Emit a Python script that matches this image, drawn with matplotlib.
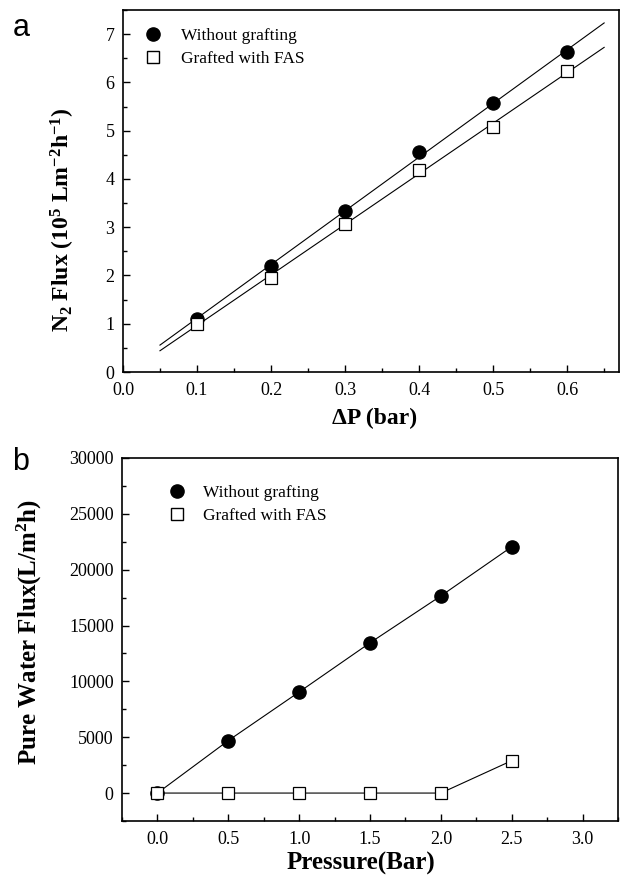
import numpy as np
import matplotlib
matplotlib.use("Agg")
import matplotlib.pyplot as plt
from matplotlib.lines import Line2D
from matplotlib.ticker import MultipleLocator, FormatStrFormatter

plt.rcParams['font.family'] = ['Liberation Serif', 'DejaVu Serif']
plt.rcParams['mathtext.default'] = 'regular'

# Panel a data
dp = [0.1, 0.2, 0.3, 0.4, 0.5, 0.6]
n2_without = [1.10, 2.20, 3.33, 4.55, 5.57, 6.62]
n2_fas = [1.00, 1.95, 3.06, 4.18, 5.08, 6.23]
fit_range = [0.05, 0.65]

# Panel b data
pressure = [0.0, 0.5, 1.0, 1.5, 2.0, 2.5]
water_without = [0, 4700, 9050, 13450, 17650, 22050]
water_fas = [0, 0, 0, 0, 0, 2900]

labels = ["Without grafting", "Grafted with FAS"]

fig = plt.figure(figsize=(6.21, 8.76), dpi=100)
axa = fig.add_axes([0.198, 0.5753, 0.7987, 0.4133])
axb = fig.add_axes([0.1965, 0.0628, 0.7987, 0.4144])

def style(ax):
    for s in ax.spines.values():
        s.set_linewidth(1.2)
    ax.tick_params(which='both', direction='in', labelsize=13, top=False, right=False)
    ax.tick_params(which='major', length=5, width=1)
    ax.tick_params(which='minor', length=3, width=1)
    ax.tick_params(axis='x', which='major', pad=7)
    ax.tick_params(axis='y', which='major', pad=6)

# Panel a
xf = np.array(fit_range)
for y, mk, mfc, ms in [(n2_without, 'o', 'black', 9.5), (n2_fas, 's', 'white', 8.5)]:
    p = np.polyfit(dp, y, 1)
    axa.plot(xf, np.polyval(p, xf), color='black', lw=0.8, zorder=2)
    axa.plot(dp, y, linestyle='none', marker=mk, mfc=mfc, mec='black', ms=ms, mew=0.9, zorder=3)
axa.set_xlim(0.0, 0.67)
axa.set_ylim(0, 7.5)
axa.xaxis.set_major_locator(MultipleLocator(0.1))
axa.xaxis.set_minor_locator(MultipleLocator(0.05))
axa.yaxis.set_major_locator(MultipleLocator(1))
axa.yaxis.set_minor_locator(MultipleLocator(0.5))
axa.xaxis.set_major_formatter(FormatStrFormatter('%.1f'))
style(axa)
axa.set_xlabel('ΔP (bar)', fontsize=17, fontweight='bold')
axa.xaxis.set_label_coords(0.508, -0.10)
axa.set_ylabel(r'N$_2$ Flux (10$^5$ Lm$^{-2}$h$^{-1}$)', fontsize=17, fontweight='bold')
axa.yaxis.set_label_coords(-0.092, 0.42)
h = [Line2D([], [], ls='none', marker='o', mfc='black', mec='black', ms=9.5),
     Line2D([], [], ls='none', marker='s', mfc='white', mec='black', ms=8.5)]
axa.legend(h, labels, loc='upper left', frameon=False, fontsize=12.5,
           bbox_to_anchor=(-0.006, 0.994), handletextpad=0.6, labelspacing=0.4, borderaxespad=0.5)

# Panel b
axb.plot(pressure, water_without, color='black', lw=0.8, marker='o', mfc='black', mec='black', ms=9.5, zorder=3)
axb.plot(pressure, water_fas, color='black', lw=0.8, marker='s', mfc='white', mec='black', ms=8.5, mew=0.9, zorder=3)
axb.set_xlim(-0.25, 3.25)
axb.set_ylim(-2500, 30000)
axb.xaxis.set_major_locator(MultipleLocator(0.5))
axb.xaxis.set_minor_locator(MultipleLocator(0.25))
axb.yaxis.set_major_locator(MultipleLocator(5000))
axb.yaxis.set_minor_locator(MultipleLocator(2500))
axb.xaxis.set_major_formatter(FormatStrFormatter('%.1f'))
style(axb)
axb.set_xlabel('Pressure(Bar)', fontsize=18, fontweight='bold')
axb.xaxis.set_label_coords(0.482, -0.085)
axb.set_ylabel(r'Pure Water Flux(L/m$^2$h)', fontsize=18, fontweight='bold')
axb.yaxis.set_label_coords(-0.158, 0.52)
axb.legend(h, labels, loc='upper left', frameon=False, fontsize=12.5,
           bbox_to_anchor=(0.045, 0.97), handletextpad=0.45, labelspacing=0.4)

fig.text(0.02, 0.985, 'a', fontsize=22, family=['Liberation Sans'], va='top', ha='left')
fig.text(0.02, 0.490, 'b', fontsize=22, family=['Liberation Sans'], va='top', ha='left')

fig.savefig('out.png', dpi=100)
